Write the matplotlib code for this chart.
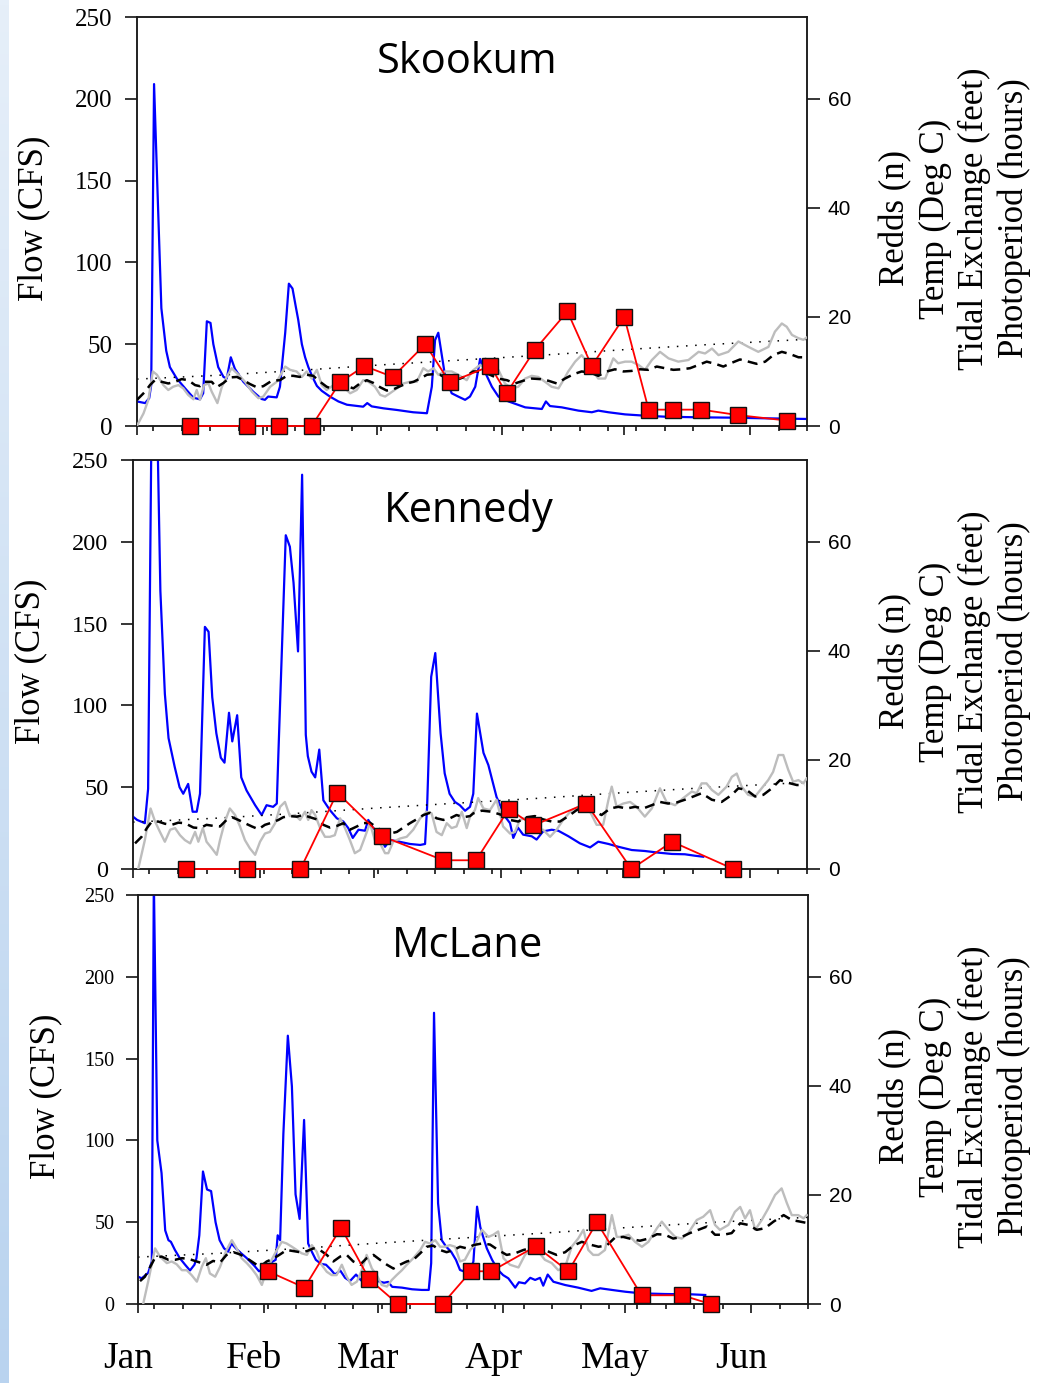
import numpy as np
import matplotlib
matplotlib.use("Agg")
import matplotlib.pyplot as plt
from matplotlib.transforms import blended_transform_factory
from matplotlib.colors import LinearSegmentedColormap

plt.rcParams['font.family'] = ['Liberation Serif', 'DejaVu Serif']

# ---------------- data (day 0 = Jan 1) ----------------
month_names = ['Jan', 'Feb', 'Mar', 'Apr', 'May', 'Jun']
month_days = [0, 31, 59, 90, 120, 151]
week_days = [4, 11, 18, 25, 32, 39, 46, 53, 60, 67, 74, 81, 88, 95, 102, 109,
             116, 123, 130, 137, 144, 151, 158, 165]

photo_day = [0, 20, 40, 60, 80, 100, 120, 140, 165]
photo_hours = [8.6, 9.3, 10.2, 11.2, 12.1, 13.0, 14.0, 14.9, 15.9]

# ---- Skookum ----
sk_flow_day = [0, 1, 2, 3, 3.5, 4.2, 5.1, 6, 7.2, 8.1, 9.8, 12.2, 13.9, 15.5, 16.3, 17.2, 18.1, 18.8,
               20, 21.3, 22.1, 23.1, 24.1, 26.2, 28.6, 30.7, 31.5, 32.3, 34.4, 35.2, 36.5, 37.4, 38.3,
               39.1, 39.7, 40.6, 41.4, 42.2, 43.2, 44.3, 45.5, 47.5, 49.6, 51.7, 55.7, 56.7, 57.8, 60.7,
               64, 68, 71.4, 72.6, 73.4, 74.2, 75.9, 77.5, 79.1, 80.8, 82, 83.3, 84.5, 85.7, 87.4, 89,
               91.5, 95.6, 99.7, 100.7, 101.7, 104.6, 108.7, 112, 113.6, 116.1, 120.2, 125.1, 130,
               138.3, 146.5, 154.7, 165]
sk_flow_cfs = [15, 14.5, 14, 17, 25, 209, 140, 72, 46, 36, 29, 22, 17.3, 16.3, 20, 64, 63, 50,
               36, 30, 29, 42, 35, 27, 21, 16.5, 16, 18, 17.5, 24, 57, 87, 84,
               73, 65, 50, 42, 36, 30, 24.5, 21.5, 18, 15, 13, 11.8, 14, 12, 10.8,
               9.8, 8.4, 7.8, 24, 52.5, 57, 30, 20, 18, 16, 18, 24, 41, 33, 24, 18,
               15, 11.4, 10.4, 15, 12.2, 11.4, 9.4, 8.4, 9.4, 8.4, 7.1, 6.3, 5.7,
               5.3, 5.1, 4.7, 4.3]
sk_temp_day = [0.1, 1.6, 2.8, 3.9, 4.9, 6.5, 7.7, 8.9, 10.2, 11.4, 12.6, 13.9, 14.7, 15.5, 16.5, 17.6,
               18.4, 19.8, 20.9, 22.1, 23.3, 25, 26.6, 28.3, 29.9, 31.1, 32.8, 34.4, 36.5, 37.7, 39.3,
               40.6, 41.8, 43, 44.3, 45.5, 46.7, 48.4, 49.6, 50.8, 52.5, 54.1, 55.7, 57, 58.6, 59.9,
               61.1, 62.3, 64, 65.6, 67.2, 68.9, 70.5, 71.7, 73, 74.2, 75.9, 77.5, 79.1, 81.2, 82.4,
               84.5, 85.7, 87.4, 89, 90.6, 92.3, 93.9, 95.6, 97.2, 98.8, 100.5, 102.1, 103.8, 105,
               106.2, 107.9, 109.5, 110.8, 112, 113.6, 115.3, 116.5, 117.3, 118.5, 120.2, 121.8,
               123.5, 125.1, 126.8, 128.8, 130.9, 133.3, 135.8, 138.3, 139.9, 141.6, 143.2, 145.6,
               148.1, 150.6, 153, 155.5, 157.1, 158.8, 160, 161.3, 162.9, 164.1, 165.3]
sk_temp_c = [0.2, 2.3, 4.8, 10, 9.4, 7.5, 6.6, 7.2, 7.5, 6.9, 5.7, 4.9, 6.6, 4.8, 7.5, 7.8,
             6.3, 4.2, 7.2, 9.0, 10.6, 9.4, 8.1, 6.3, 5.1, 5.4, 7.2, 8.1, 10.9, 10.3, 10,
             9.0, 10, 8.7, 10.3, 7.5, 6.6, 7.5, 8.4, 7.2, 6.0, 6.6, 8.4, 8.1, 7.2, 5.7,
             5.4, 6.0, 6.9, 7.8, 8.1, 8.1, 10.6, 10, 10.6, 9.4, 10, 10, 9.4, 8.4, 10,
             11.2, 10.6, 10.9, 10.3, 7.8, 6.9, 7.2, 8.7, 9.2, 9.0, 8.1, 7.2, 6.9, 8.4,
             10, 11.8, 13, 11.8, 10.3, 8.7, 8.7, 10.9, 12.4, 11.5, 11.8, 11.8,
             11.2, 10.3, 12.1, 13.6, 12.4, 11.8, 12.1, 13.6, 13.3, 14.2, 13, 13.6,
             15.5, 14.5, 13.6, 14.5, 17.3, 18.8, 18.2, 16.7, 16.1, 15.8, 16.4]
sk_tide_day = [0, 2, 3.2, 4.4, 6.1, 7.7, 9.4, 11, 12.6, 14.3, 15.5, 16.7, 18.4, 19.6, 21.3, 22.9, 24.6,
               26.2, 27.8, 29.5, 31.1, 33.2, 35.2, 36.9, 38.5, 40.1, 41.8, 43.4, 45.1, 46.7, 48.4, 50,
               51.7, 53.3, 54.9, 56.6, 58.2, 59.9, 61.5, 63.1, 64.8, 66.4, 68.1, 69.7, 71.4, 73, 74.6,
               76.3, 77.9, 79.6, 81.2, 82.8, 84.9, 86.9, 89, 91.1, 93.1, 95.1, 97.2, 99.3, 101.3,
               103.4, 105.4, 107.5, 109.5, 111.6, 113.6, 115.7, 117.7, 119.8, 121.8, 123.9, 125.9,
               128, 130, 132.1, 134.2, 136.2, 138.3, 140.3, 142.4, 144.4, 146.5, 148.5, 150.6,
               152.6, 154.7, 156.7, 158.8, 160.8, 162.9, 164.9]
sk_tide_ft = [4.8, 6.3, 7.5, 8.4, 8.1, 7.8, 8.1, 8.6, 8.4, 7.5, 7.3, 8.1, 8.1, 7.1, 7.9, 8.9, 9.0,
              8.4, 7.7, 7.1, 7.3, 8.3, 8.4, 9.2, 9.2, 9.0, 9.4, 9.2, 8.1, 7.2, 6.7, 6.9,
              7.3, 6.9, 7.8, 8.4, 7.9, 7.1, 6.5, 6.7, 7.3, 7.8, 8.1, 8.7, 9.4, 9.5, 9.4,
              8.7, 8.4, 8.7, 9.2, 10, 10, 9.4, 8.7, 8.4, 7.8, 8.3, 8.7, 8.6, 8.3,
              7.8, 8.7, 9.5, 10, 9.8, 9.2, 10, 10.4, 10, 10.1, 10.4, 10.3,
              10.9, 10.6, 10.3, 10.4, 10.6, 11.2, 11.8, 11.4, 10.9, 11.6, 12.2, 11.8,
              11.4, 11.8, 13, 13.6, 13.2, 12.6, 12.6]
sk_redd_day = [13, 27, 35, 43, 50, 56, 63, 71, 77, 87, 91, 98, 106, 112, 120, 126, 132, 139, 148, 160]
sk_redd_n = [0, 0, 0, 0, 8, 11, 9, 15, 8, 11, 6, 14, 21, 11, 20, 3, 3, 3, 2, 1]

# ---- Kennedy ----
ke_flow_day = [0, 1, 2.9, 3.7, 5, 6.7, 7.8, 8.7, 10.2, 11.4, 12.3, 13.5, 14.6, 15.6, 16.4, 17.6, 18.5,
               19.4, 20.4, 21.5, 22.4, 23.5, 24.3, 25.5, 26.5, 27.8, 29.9, 31.5, 32.7, 34.3, 35.2,
               35.6, 37.4, 38.4, 39.3, 40.4, 41.4, 42.3, 42.8, 43.7, 44.6, 45.6, 46.6, 48.2, 49.9,
               51.5, 52.7, 53.8, 55.2, 56.8, 57.6, 58.8, 60, 61.7, 62.9, 64.6, 67.8, 70.3, 71.5, 72,
               73, 74, 75.3, 76.3, 77.5, 78.8, 80, 81.3, 82.5, 83.3, 84.2, 85.8, 87, 89, 91.1, 92.3,
               93.1, 94.2, 95.5, 97.6, 98.8, 100.4, 102.5, 104.1, 106.6, 109.4, 111.9, 113.9,
               116.4, 118.8, 122.1, 125.3, 128.6, 131.9, 135.1, 137.6, 139.6]
ke_flow_cfs = [32, 30, 28, 49, 400, 170, 107, 80, 62.5, 50, 46, 52, 35, 35, 46, 148, 145,
               105, 83, 68, 65, 95.5, 78, 94, 56, 48, 39, 33, 39, 38, 40,
               71, 204, 197, 175, 133, 241, 82, 69, 59.5, 56, 73, 42, 36, 31,
               29, 25, 19, 24, 23.4, 30, 25, 23, 13.6, 17.7, 17, 15.3, 14.7, 15.3, 38,
               117.5, 132, 83, 58.5, 46, 41, 39, 35.6, 38, 46, 95, 71, 63.5, 44, 32, 28,
               19, 25.4, 21, 20, 18, 23, 24, 23.4, 20, 15.7, 13.2, 16.7,
               15.3, 13.6, 11.6, 11, 10, 9.2, 9, 8.1, 7.5]
ke_temp_day = [1.3, 2.9, 4.3, 5.4, 6.6, 7.8, 9.1, 10.3, 11.5, 12.7, 14, 15.2, 16, 17.1, 18, 19.3, 20.5,
               21.3, 22.5, 23.7, 25, 26.2, 27.4, 28.6, 29.9, 31.1, 32.3, 33.5, 34.8, 36, 37.2, 38.4,
               39.7, 40.9, 42.1, 42.9, 43.7, 44.6, 45.8, 47, 48.2, 49.4, 50.7, 51.9, 53.1, 54.3,
               55.6, 56.8, 58, 59.2, 60.5, 61.7, 62.5, 63.7, 65.4, 67, 68.6, 70.3, 71.9, 73.1, 74.3,
               75.6, 76.8, 78, 79.2, 80.5, 81.7, 82.5, 83.7, 84.5, 85.8, 87.4, 89, 90.6, 92.3, 93.5,
               94.7, 96, 97.2, 98.8, 100.4, 102.1, 103.7, 105.3, 107.4, 109, 110.6, 111.9, 113.5,
               115.1, 116.4, 117.2, 118.4, 120, 121.7, 123.3, 125.3, 127, 129, 130.6, 132.7, 134.7,
               136.8, 138, 139.2, 140.4, 141.7, 143.3, 145.3, 146.6, 147.8, 149, 150.6, 152.3,
               153.9, 155.5, 156.7, 158, 159.2, 160.4, 161.6, 162.9, 164.1, 164.9]
ke_temp_c = [0.1, 5.3, 11.1, 8.7, 6.8, 5.0, 7.2, 7.5, 6.2, 5.3, 4.7, 6.8, 5.0, 7.5, 5.0, 3.8, 2.6,
             5.3, 8.7, 11.1, 9.9, 7.8, 5.3, 3.8, 2.6, 5.0, 6.5, 6.8, 8.4, 11.4, 12.3, 9.7,
             9.9, 9.0, 10.5, 9.0, 10.8, 9.9, 7.5, 5.9, 5.9, 6.2, 9.3, 7.5, 5.3, 2.9,
             3.5, 5.9, 8.4, 5.3, 4.7, 2.9, 2.9, 5.0, 5.6, 5.9, 7.2, 9.3, 10.5, 10.2, 6.8,
             6.2, 8.4, 7.5, 7.8, 10.5, 7.5, 9.6, 10.8, 13, 11.1, 10.8, 12.7, 7.8, 6.5, 6.8,
             9.0, 9.3, 8.4, 7.2, 7.2, 5.9, 7.2, 9.0, 10.8, 11.4, 12.7, 10.5, 8.1,
             8.1, 12.7, 15.1, 11.4, 12.0, 12.3, 11.4, 9.6, 11.1, 14.8, 12.3, 11.7, 13,
             14.2, 13.9, 15.7, 15.7, 14.5, 13.6, 15.1, 16.9, 17.5, 15.1, 13.6, 13.3,
             14.8, 16.3, 17.8, 20.9, 20.9, 18.2, 16, 16.3, 15.7, 16.6]
ke_tide_day = [0.5, 2.1, 3.4, 4.6, 6.2, 7.8, 9.5, 11.1, 12.7, 14.8, 16.4, 18, 19.7, 21.3, 22.9, 24.2,
               25.8, 27.4, 29.1, 30.7, 32.3, 34, 35.6, 36.8, 38.4, 40.1, 41.7, 43.3, 45, 46.6, 48.2,
               49.9, 51.5, 53.1, 54.8, 56.4, 58, 59.7, 61.3, 62.9, 64.6, 66.2, 67.8, 69.4, 71.1,
               72.7, 74.3, 76, 77.6, 79.2, 80.9, 82.5, 83.3, 85.4, 87.8, 90.3, 92.3, 94.3, 96.4,
               98.4, 100.4, 102.5, 104.5, 106.6, 108.6, 110.6, 112.7, 114.7, 116.8, 118.8, 120.9,
               122.9, 124.9, 127, 129, 131, 133.1, 135.1, 137.2, 139.2, 141.7, 144.1, 146.6, 148.2,
               150.2, 152.3, 154.3, 156.4, 158.4, 160.4, 162.5, 164.5]
ke_tide_ft = [4.7, 5.9, 7.5, 8.7, 8.7, 8.3, 8.1, 8.5, 8.4, 7.6, 7.5, 8.1, 7.9, 7.8, 9.0, 9.5,
              9.0, 8.4, 7.8, 7.3, 8.1, 8.5, 9.0, 9.5, 9.7, 9.6, 9.9, 9.5, 9.1, 8.1, 7.6,
              7.9, 8.4, 7.2, 7.8, 8.4, 8.5, 7.6, 6.8, 6.5, 6.8, 7.6, 8.4, 9.1, 9.9,
              10.3, 9.3, 9.0, 9.3, 9.9, 9.5, 9.7, 10.2, 10.7, 10.5, 9.9, 9.0, 8.7, 9.5,
              9.7, 9.1, 8.7, 8.7, 9.7, 10.8, 11.6, 10.7, 9.9, 11.1, 11.4, 11.1,
              11.4, 11.1, 11.7, 12.3, 12.0, 12.2, 12.7, 13.3, 13.9, 12.7, 12.3, 13.6, 14.8,
              14.5, 13.3, 13.6, 14.8, 16.3, 15.8, 15.4, 15.4]
ke_redd_day = [13, 28, 41, 50, 61, 76, 84, 92, 98, 111, 122, 132, 147]
ke_redd_n = [0, 0, 0, 14, 6, 1.6, 1.6, 11, 8, 12, 0, 5, 0]

# ---- McLane ----
mc_flow_day = [0, 0.9, 2.5, 3.4, 3.9, 4.75, 5.8, 6.7, 7.5, 8.1, 9.1, 10.3, 11.6, 12.8, 13.9, 14.4, 15.1,
               16, 17, 18, 19.1, 20.1, 21.2, 22.2, 23, 24.1, 25.4, 26.8, 28.6, 29.8, 30.9, 32.5, 33.9,
               34.4, 35, 35.8, 36.9, 37.9, 38.8, 39.8, 40.9, 41.9, 42.6, 43.8, 45.1, 46.3, 47.5, 48.5,
               49.8, 51, 52.2, 53.7, 54.9, 56.4, 57.9, 59.1, 60.6, 61.6, 62.6, 65, 67.5, 69.9, 71.6,
               72.2, 72.9, 73.9, 74.8, 75.9, 77.1, 78.3, 79.3, 80.5, 81.8, 82.6, 83.5, 84.3, 85,
               85.9, 87.2, 88.6, 89.9, 91.2, 92.9, 93.8, 95.3, 96.6, 97.8, 99, 99.8, 100.9, 102.3,
               105.2, 108.4, 111.7, 113.8, 116.7, 120, 124, 129.8, 136.4, 139.7]
mc_flow_cfs = [16.7, 15.7, 19, 26, 260, 100, 80, 45, 39, 38, 33, 28, 24, 20.5, 24, 28, 42,
               81, 70, 69, 50, 39, 34, 32, 37, 34, 31, 28, 23.5, 20, 21.5, 25, 27,
               42, 39, 104, 164, 133, 67, 52, 112.5, 37, 33, 27, 24.5, 24, 21, 18,
               20.5, 16, 14, 18, 14.5, 13, 12, 14, 13, 13.5, 10.5, 10, 9, 8.6, 8.6,
               25, 178, 61.5, 39, 35, 32, 27, 20.8, 19.7, 20.5, 26, 59.5, 47, 41,
               34, 27, 21, 17.7, 15.7, 10, 13.3, 12.6, 16, 14.7, 16, 11.2, 18, 13.6,
               11.6, 10, 8, 9.6, 8.6, 7.5, 6.5, 6.1, 5.9, 5.5]
mc_temp_day = [1.3, 2.5, 4.2, 5.4, 7.1, 8.3, 9.5, 10.8, 12, 13.2, 14.5, 15.7, 16.7, 17.7, 19, 20.2,
               21.8, 23.1, 24.3, 25.5, 26.8, 28, 29.2, 30.5, 31.7, 32.9, 34.2, 35.4, 36.6, 37.9,
               39.1, 40.3, 41.6, 42.8, 44, 45.2, 46.5, 47.7, 48.9, 50.2, 51.4, 52.6, 53.9, 55.1,
               56.3, 57.6, 58.8, 60, 61.3, 62.5, 63.7, 65, 66.2, 67.8, 69.5, 70.7, 71.9, 73.2,
               74.4, 75.6, 76.8, 78.1, 79.3, 80.5, 81.8, 83, 84.7, 86.3, 87.5, 88.7, 90, 91.6,
               93.7, 95.3, 97, 98.6, 100.2, 101.9, 103.5, 105.2, 106.8, 108.4, 109.7, 110.9,
               112.1, 113.4, 115, 116.7, 117.9, 119.1, 120.8, 122.4, 124.1, 125.7, 127.8, 129,
               130.6, 132.3, 133.9, 135.5, 137.6, 139.2, 140.9, 142.1, 143.3, 145.4, 147, 148.3,
               149.5, 150.7, 152, 153.6, 155.2, 156.9, 158.5, 159.8, 161, 162.6, 163.9, 164.7]
mc_temp_c = [0.1, 4.1, 10.2, 8.7, 7.5, 7.8, 7.3, 6.2, 6.2, 5.3, 4.1, 6.8, 8.4, 5.6, 5.0, 6.8,
             9.9, 11.7, 10.2, 8.4, 7.5, 6.5, 5.3, 3.5, 6.2, 8.1, 9.9, 11.4, 11.1, 10.5,
             9.9, 9.3, 9.0, 10.8, 9.6, 7.2, 5.9, 5.3, 5.3, 7.2, 5.0, 3.5, 4.1, 6.2,
             9.0, 6.5, 5.3, 3.5, 3.2, 4.4, 5.3, 6.2, 7.2, 8.4, 9.9, 11.4, 11.1, 11.7,
             10.5, 10.5, 10.8, 10.5, 7.8, 8.1, 9.9, 10.8, 13.6, 12.3, 12.7, 13.3, 8.4, 7.2,
             6.7, 9.0, 10.2, 9.6, 8.1, 7.5, 6.2, 6.8, 10.5, 12.0, 13.6, 9.9,
             9.0, 9.0, 9.9, 16.3, 12.3, 12.3, 12.7, 11.4, 10.5, 11.4, 13.9, 15.1,
             13.6, 12.3, 12.0, 13.0, 15.4, 16.0, 17.2, 14.5, 13.6, 14.5, 16.9, 17.8,
             15.7, 17.2, 13.6, 15.4, 17.5, 20.0, 21.2, 18.5, 16.3, 16.3, 15.7, 16.3]
mc_tide_day = [0.5, 1.7, 3, 4.2, 5.8, 7.5, 9.1, 10.8, 12.4, 14, 15.7, 16.9, 18.5, 20.2, 21.8, 23.5,
               25.1, 26.8, 28.4, 30, 31.7, 33.3, 35, 36.6, 38.3, 39.9, 41.6, 43.2, 44.8, 46.5, 48.1,
               49.8, 51.4, 53, 54.7, 56.3, 58, 59.6, 61.3, 62.9, 64.5, 66.2, 67.8, 69.5, 71.1, 72.7,
               74.4, 76, 77.7, 79.3, 81, 82.6, 84.7, 86.7, 88.7, 90.8, 92.9, 94.9, 97, 99, 101.1,
               103.1, 105.2, 107.2, 109.3, 111.3, 113.4, 115.4, 117.5, 119.5, 121.6, 123.6, 125.7,
               127.8, 129.8, 131.8, 133.9, 135.9, 138, 140.1, 142.1, 144.2, 146.2, 148.3, 150.3,
               152.4, 154.4, 156.5, 159, 161, 163.1, 165.1]
mc_tide_ft = [4.2, 5.0, 6.8, 8.5, 8.7, 8.1, 8.1, 8.4, 8.3, 7.9, 7.5, 7.2, 7.9, 7.6, 9.0, 9.5,
              9.1, 8.4, 7.6, 6.8, 7.8, 8.3, 9.1, 9.9, 9.7, 9.5, 9.7, 10.2, 9.9, 9.0, 7.8,
              8.7, 9.0, 7.8, 7.2, 8.4, 9.0, 8.1, 7.2, 6.5, 7.2, 7.8, 8.1, 9.3, 10.5, 10.7,
              9.9, 9.5, 9.9, 10.5, 10.2, 10.8, 11.1, 10.9, 9.9, 9.0, 9.3, 9.9, 10.3, 10.1, 9.6,
              9.0, 9.5, 10.7, 11.4, 10.9, 10.5, 10.7, 12.2, 12.3, 11.9, 11.6, 12.0,
              12.8, 12.7, 12.0, 12.3, 13.0, 13.6, 14.2, 12.7, 12.7, 13.0, 14.8, 14.5,
              13.6, 13.9, 15.1, 16.3, 15.4, 15.1, 14.8]
mc_redd_day = [32, 41, 50, 57, 64, 75, 82, 87, 98, 106, 113, 124, 134, 141]
mc_redd_n = [6, 3, 14, 4.5, 0, 0, 6, 6, 10.6, 6, 15, 1.6, 1.6, 0]

# ---------------- figure ----------------
W, H = 1050, 1383
fig = plt.figure(figsize=(W / 100, H / 100), dpi=100)

# light blue strip on the left edge
sax = fig.add_axes([0, 0, 9 / W, 1])
grad = np.linspace(0, 1, 256).reshape(-1, 1)
cm = LinearSegmentedColormap.from_list('strip', ['#b9d3ef', '#e6eff9'])
sax.imshow(grad, aspect='auto', cmap=cm, origin='lower', extent=[0, 1, 0, 1])
sax.axis('off')

panels = [
    dict(name='Skookum', box=(137, 17, 807, 426), fs=18, title_xy=(0.4925, 0.863),
         flow=(sk_flow_day, sk_flow_cfs), temp=(sk_temp_day, sk_temp_c),
         tide=(sk_tide_day, sk_tide_ft), redd=(sk_redd_day, sk_redd_n), ylab_x=34),
    dict(name='Kennedy', box=(133, 460, 807, 869), fs=17.5, title_xy=(0.4985, 0.848),
         flow=(ke_flow_day, ke_flow_cfs), temp=(ke_temp_day, ke_temp_c),
         tide=(ke_tide_day, ke_tide_ft), redd=(ke_redd_day, ke_redd_n), ylab_x=31),
    dict(name='McLane', box=(138, 895, 808, 1304), fs=14.5, title_xy=(0.4925, 0.848),
         flow=(mc_flow_day, mc_flow_cfs), temp=(mc_temp_day, mc_temp_c),
         tide=(mc_tide_day, mc_tide_ft), redd=(mc_redd_day, mc_redd_n), ylab_x=46),
]

right_lines = ['Redds (n)', 'Temp (Deg C)', 'Tidal Exchange (feet)', 'Photoperiod (hours)']
right_x = [896, 935, 974, 1014]

for i, p in enumerate(panels):
    x0, y0, x1, y1 = p['box']
    ax = fig.add_axes([x0 / W, 1 - y1 / H, (x1 - x0) / W, (y1 - y0) / H])
    ax.plot(p['flow'][0], p['flow'][1], color='#0000ff', lw=1.6, zorder=3)
    ax.set_xlim(0, 165)
    ax.set_ylim(0, 250)
    ax.set_yticks([0, 50, 100, 150, 200, 250])
    ax.set_xticks(month_days)
    ax.set_xticks(week_days, minor=True)
    ax.tick_params(axis='x', which='major', direction='out', length=6.5, width=1.1,
                   labelbottom=False)
    ax.tick_params(axis='x', which='minor', direction='out', length=3.5, width=1.1)
    ax.tick_params(axis='y', which='major', direction='out', length=8.8, width=1.1,
                   pad=9 if i < 2 else 8, labelsize=p['fs'])
    for sp in ax.spines.values():
        sp.set_linewidth(1.1)
        sp.set_color('#1a1a1a')

    ax2 = ax.twinx()
    ax2.set_ylim(0, 75)
    ax2.set_yticks([0, 20, 40, 60])
    ax2.tick_params(axis='y', direction='out', length=9, width=1.1, pad=6, labelsize=15)
    for lab in ax2.get_yticklabels():
        lab.set_fontfamily('Liberation Sans')
    for sp in ax2.spines.values():
        sp.set_linewidth(1.1)
        sp.set_color('#1a1a1a')
    ax2.plot(photo_day, photo_hours, color='black', lw=1.1, ls=(0, (1, 5)), zorder=2)
    ax2.plot(p['temp'][0], p['temp'][1], color='#bdbdbd', lw=1.7, zorder=3)
    ax2.plot(p['tide'][0], p['tide'][1], color='black', lw=1.8, ls=(0, (4, 2.5)), zorder=4)
    ax2.plot(p['redd'][0], p['redd'][1], color='#ff0000', lw=1.3, marker='s', ms=11.5,
             mfc='#ff0000', mec='#111111', mew=1.0, zorder=6, clip_on=False)

    ax.text(p['title_xy'][0], p['title_xy'][1], p['name'], transform=ax.transAxes,
            ha='center', va='baseline', fontsize=30, family=['Open Sans', 'DejaVu Sans'])

    yc = 1 - ((y0 + y1) / 2 - 3) / H
    fig.text(p['ylab_x'] / W, yc, 'Flow (CFS)', rotation=90, ha='center', va='center',
             fontsize=25)
    for t, xx in zip(right_lines, right_x):
        fig.text(xx / W, yc, t, rotation=90, ha='center', va='center', fontsize=25)

    if i == 2:
        tr = blended_transform_factory(ax.transData, ax.transAxes)
        for m, d in zip(month_names, month_days):
            ax.text(d - 2.4, -64 / 409, m, transform=tr, ha='center', va='baseline',
                    fontsize=27)

fig.savefig('out.png', dpi=100)
